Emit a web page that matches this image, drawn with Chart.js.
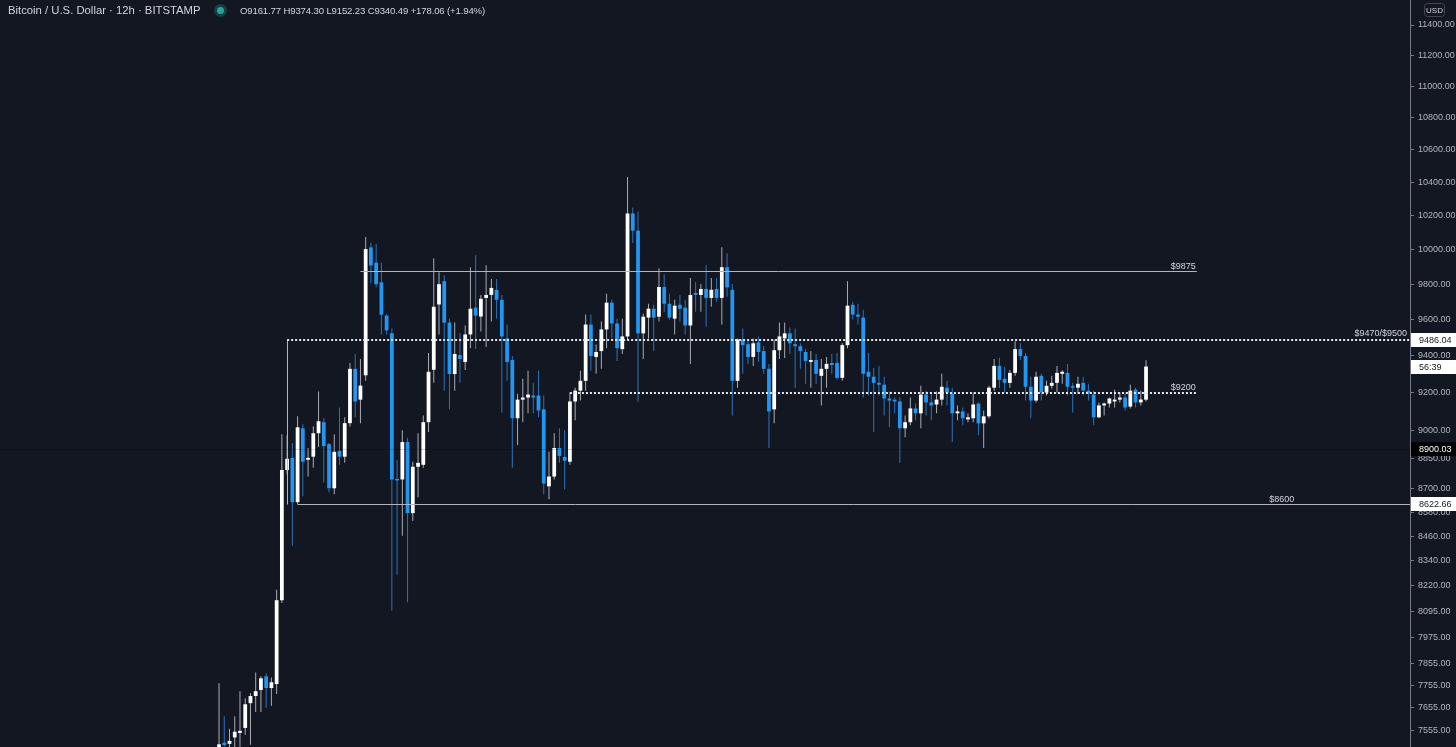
<!DOCTYPE html>
<html><head><meta charset="utf-8">
<script src="https://cdn.jsdelivr.net/npm/chart.js@4.4.1/dist/chart.umd.min.js"></script>
<style>
html,body{margin:0;padding:0;background:#131722;overflow:hidden;}
#wrap{position:relative;width:1456px;height:747px;background:#131722;}
canvas{position:absolute;left:0;top:0;}
#title{position:absolute;left:8px;top:4px;font:11.3px 'Liberation Sans',sans-serif;color:#d1d4dc;white-space:nowrap;}
#dot{position:absolute;left:217px;top:7px;width:7px;height:7px;border-radius:50%;background:#26a69a;box-shadow:0 0 0 3px rgba(38,166,154,0.28);}
#ohlc{position:absolute;left:240px;top:5px;font:9.6px 'Liberation Sans',sans-serif;letter-spacing:-0.15px;color:#d1d4dc;white-space:nowrap;}
</style></head>
<body><div id="wrap"><canvas id="c" width="1456" height="747"></canvas>
<div id="title">Bitcoin / U.S. Dollar · 12h · BITSTAMP</div><div id="dot"></div><div id="ohlc"></div></div>
<script>
const opens  = [7475,7500,7495,7523,7543,7565,7675,7707,7734,7796,7743,7761,8150,8793,8856,8630,9010,8846,8862,8984,
9042,8927,8700,8892,8862,9037,9328,9162,9293,10013,9924,9811,9622,9523,8745,8745,8938,8575,8810,8820,
9042,9323,9685,9817,9583,9300,9403,9365,9517,9667,9617,9722,9739,9768,9711,9495,9376,9063,9162,9173,
9184,9184,9110,8710,8760,8907,8861,8836,9152,9210,9263,9572,9393,9425,9545,9695,9578,9436,9506,10213,
10111,9523,9611,9661,9616,9784,9689,9605,9683,9667,9567,9750,9739,9773,9722,9773,9722,9898,9768,9263,
9489,9463,9393,9473,9425,9328,9110,9430,9495,9523,9463,9452,9420,9366,9376,9290,9328,9360,9360,9279,
9458,9683,9628,9611,9312,9285,9252,9242,9168,9162,9152,9010,9042,9115,9089,9189,9147,9136,9162,9226,
9194,9089,9099,9057,9063,9141,9036,9073,9226,9344,9274,9252,9306,9436,9398,9231,9157,9290,9200,9236,
9252,9301,9306,9231,9226,9252,9210,9189,9068,9131,9141,9152,9162,9173,9125,9215,9147,9161.77];
const highs  = [7765,7617,7561,7617,7728,7697,7720,7814,7796,7809,7791,8200,8979,8974,8933,9073,9031,8907,9021,9205,
9063,8933,8979,9120,9068,9360,9409,9382,10074,10040,10033,9924,9633,9550,8846,9000,8960,8836,8984,9078,
9414,9949,9869,9851,9605,9583,9523,9567,9898,9967,9739,9909,9830,9830,9739,9572,9398,9194,9274,9317,
9252,9317,9184,8887,8984,9010,9000,9200,9226,9317,9628,9628,9462,9589,9745,9711,9605,9605,10432,10248,
10224,9633,9689,9683,9892,9857,9745,9711,9739,9711,9836,9813,9801,9909,9836,9836,10013,9978,9801,9495,
9550,9479,9495,9506,9452,9355,9489,9583,9583,9556,9550,9468,9436,9425,9409,9382,9393,9409,9414,9468,
9817,9700,9689,9655,9414,9333,9344,9285,9205,9173,9173,9078,9173,9141,9236,9210,9200,9205,9301,9263,
9226,9131,9120,9089,9200,9147,9104,9236,9382,9387,9339,9322,9479,9468,9414,9285,9312,9301,9263,9290,
9344,9320,9355,9252,9285,9285,9247,9210,9147,9147,9173,9215,9200,9200,9242,9226,9210,9374.30];
const lows   = [7425,7435,7445,7455,7482,7534,7491,7636,7636,7654,7663,7716,8137,8770,8413,8620,8660,8760,8805,8912,
8730,8680,8670,8820,8830,9020,9068,9037,9263,9806,9782,9517,9517,8100,8272,8463,8140,8535,8655,8805,
8990,9252,9517,9210,9110,9210,9252,9322,9441,9436,9534,9447,9589,9605,9094,9263,8805,8923,9042,9089,
9089,9068,8670,8644,8745,8830,8694,8820,9052,9157,9210,9317,9301,9328,9441,9495,9371,9409,9489,10039,
9150,9382,9495,9425,9589,9644,9600,9517,9589,9517,9355,9644,9644,9561,9672,9700,9572,9728,9078,9226,
9301,9355,9344,9366,9301,8907,9037,9382,9387,9409,9226,9328,9247,9226,9247,9131,9226,9301,9270,9263,
9441,9600,9572,9173,9184,8990,9184,9078,9016,9089,8830,8963,9026,9052,9010,9078,9052,9089,9131,9131,
8938,9052,9026,9042,9042,8974,8907,9063,9210,9226,9200,9226,9290,9376,9157,9063,9147,9157,9184,9220,
9200,9247,9184,9094,9194,9184,9157,9026,9063,9078,9120,9120,9147,9104,9115,9120,9131,9152.23];
const closes = [7493,7490,7508,7548,7552,7670,7707,7729,7787,7743,7769,8150,8793,8851,8630,9015,8836,8856,8984,9047,
8917,8700,8887,8862,9037,9328,9152,9237,10003,9908,9800,9627,9540,8745,8740,8938,8575,8810,8830,9042,
9312,9672,9800,9583,9300,9409,9382,9517,9661,9622,9717,9739,9779,9711,9506,9365,9063,9162,9173,9189,
9173,9104,8724,8760,8907,8866,8841,9152,9210,9263,9572,9398,9420,9545,9695,9578,9441,9506,10213,10111,
9523,9616,9661,9611,9784,9689,9611,9678,9661,9567,9739,9739,9773,9722,9768,9722,9898,9782,9263,9489,
9458,9393,9468,9420,9328,9099,9430,9506,9523,9468,9452,9425,9371,9376,9301,9328,9355,9349,9279,9458,
9678,9628,9616,9301,9285,9252,9242,9168,9157,9152,9010,9042,9115,9089,9189,9147,9131,9162,9231,9200,
9089,9099,9063,9068,9136,9036,9073,9226,9344,9268,9252,9306,9436,9398,9231,9157,9285,9200,9236,9252,
9306,9312,9231,9226,9247,9210,9194,9068,9131,9141,9168,9162,9173,9120,9210,9147,9162.43,9340.49];
const tickValues = [11400,11200,11000,10800,10600,10400,10200,10000,9800,9600,9400,9200,9000,8850,8700,8580,8460,8340,8220,8095,7975,7855,7755,7655,7555];
const levelHigh = 9875, levelRange = 9486.04, levelMid = 9200, levelLow = 8622.66, levelMark = 8900.03;
const levelLabels = ['$9875', '$9470/$9500', '$9200', '$8600'];
const countdown = '56:39';

const n = closes.length;
const idx = closes.map((_, i) => i);
const isUp = i => closes[i] >= opens[i];
const fmt = v => v.toFixed(2);
const chg = closes[n-1] - closes[n-2];
document.getElementById('ohlc').textContent =
  'O' + fmt(opens[n-1]) + ' H' + fmt(highs[n-1]) + ' L' + fmt(lows[n-1]) + ' C' + fmt(closes[n-1]) +
  ' ' + (chg >= 0 ? '+' : '') + fmt(chg) + ' (' + (chg >= 0 ? '+' : '') + (chg / closes[n-2] * 100).toFixed(2) + '%)';

const UP = '#ffffff', DOWN = '#2196f3', WICK_UP = '#a9acb4', WICK_DOWN = '#2a74bd';
const FONT = 'Liberation Sans';

const annot = {
  id: 'annot',
  afterDatasetsDraw(chart) {
    const {ctx, scales: {x, y}, chartArea: a} = chart;
    const px = i => x.getPixelForValue(i);
    const py = v => Math.round(y.getPixelForValue(v)) + 0.5;
    ctx.save();
    ctx.lineWidth = 1;
    ctx.strokeStyle = '#b2b5be';
    ctx.beginPath();
    ctx.moveTo(px(27), py(levelHigh)); ctx.lineTo(px(186.7), py(levelHigh));
    ctx.moveTo(px(15), py(levelLow)); ctx.lineTo(a.right, py(levelLow));
    ctx.moveTo(Math.round(px(13)) + 0.5, py(levelRange)); ctx.lineTo(Math.round(px(13)) + 0.5, py(levelLow));
    ctx.stroke();
    ctx.strokeStyle = 'rgba(0,0,0,0.18)';
    ctx.beginPath(); ctx.moveTo(a.left, py(levelMark)); ctx.lineTo(a.right, py(levelMark)); ctx.stroke();
    ctx.strokeStyle = '#e6e8ee';
    ctx.lineWidth = 2;
    ctx.setLineDash([2, 2]);
    ctx.beginPath();
    const yr = Math.round(y.getPixelForValue(levelRange)), ym = Math.round(y.getPixelForValue(levelMid));
    ctx.moveTo(px(13), yr); ctx.lineTo(a.right, yr);
    ctx.moveTo(px(67), ym); ctx.lineTo(px(186.7), ym);
    ctx.stroke();
    ctx.setLineDash([]);
    ctx.fillStyle = '#d1d4dc';
    ctx.font = '9px ' + FONT;
    ctx.textAlign = 'right';
    ctx.textBaseline = 'alphabetic';
    ctx.fillText(levelLabels[0], px(186.7) - 1, py(levelHigh) - 3);
    ctx.fillText(levelLabels[1], a.right - 3, py(levelRange) - 5);
    ctx.fillText(levelLabels[2], px(186.7) - 1, py(levelMid) - 4);
    ctx.fillText(levelLabels[3], px(205.3), py(levelLow) - 3);
    ctx.restore();
  },
  afterDraw(chart) {
    const {ctx, scales: {y}, chartArea: a} = chart;
    ctx.save();
    ctx.font = '9px ' + FONT;
    ctx.textBaseline = 'middle';
    ctx.textAlign = 'left';
    const boxes = [
      [levelRange, fmt(levelRange), '#ffffff', '#131722'],
      [closes[n-1], countdown, '#ffffff', '#131722'],
      [levelMark, fmt(levelMark), '#000000', '#ffffff'],
      [levelLow, fmt(levelLow), '#ffffff', '#131722']
    ];
    for (const [v, t, bg, fg] of boxes) {
      const yy = Math.round(y.getPixelForValue(v));
      ctx.fillStyle = bg;
      ctx.fillRect(a.right + 1, yy - 7, 1456 - a.right - 1, 14);
      ctx.fillStyle = fg;
      ctx.fillText(t, a.right + 9, yy + 0.5);
    }
    ctx.strokeStyle = '#434651';
    ctx.lineWidth = 1;
    ctx.beginPath();
    ctx.roundRect(1424.5, 3.5, 20, 13, 3);
    ctx.stroke();
    ctx.fillStyle = '#d1d4dc';
    ctx.font = '8px ' + FONT;
    ctx.textAlign = 'center';
    ctx.fillText('USD', 1434.5, 10.5);
    ctx.restore();
  }
};

new Chart(document.getElementById('c'), {
  type: 'bar',
  data: {
    datasets: [
      {
        label: 'wick',
        data: idx.map(i => ({x: i, y: [lows[i], highs[i]]})),
        backgroundColor: idx.map(i => isUp(i) ? WICK_UP : WICK_DOWN),
        grouped: false, maxBarThickness: 1, order: 2, borderWidth: 0
      },
      {
        label: 'body',
        data: idx.map(i => ({x: i, y: [opens[i], closes[i]]})),
        backgroundColor: idx.map(i => isUp(i) ? UP : DOWN),
        grouped: false, maxBarThickness: 4, minBarLength: 1.5, order: 1, borderWidth: 0
      }
    ]
  },
  options: {
    responsive: false,
    animation: false,
    devicePixelRatio: 1,
    layout: {padding: 0},
    plugins: {legend: {display: false}, tooltip: {enabled: false}},
    scales: {
      x: {type: 'linear', min: -41.82, max: 227.4, display: false, offset: false},
      y: {
        type: 'logarithmic', position: 'right', min: 7481.2, max: 11567.5, bounds: 'data',
        afterBuildTicks: s => { s.ticks = tickValues.map(v => ({value: v})); },
        afterFit: s => { s.width = 46; s.paddingTop = 0; s.paddingBottom = 0; },
        grid: {display: true, drawOnChartArea: false, drawTicks: true, tickLength: 4, tickColor: '#787b86', color: '#787b86'},
        border: {display: true, color: '#787b86', width: 1},
        ticks: {color: '#b2b5be', font: {family: FONT, size: 9}, padding: 4, autoSkip: false, maxRotation: 0,
                callback: v => Number(v).toFixed(2)}
      }
    }
  },
  plugins: [annot]
});
</script>
</body></html>
